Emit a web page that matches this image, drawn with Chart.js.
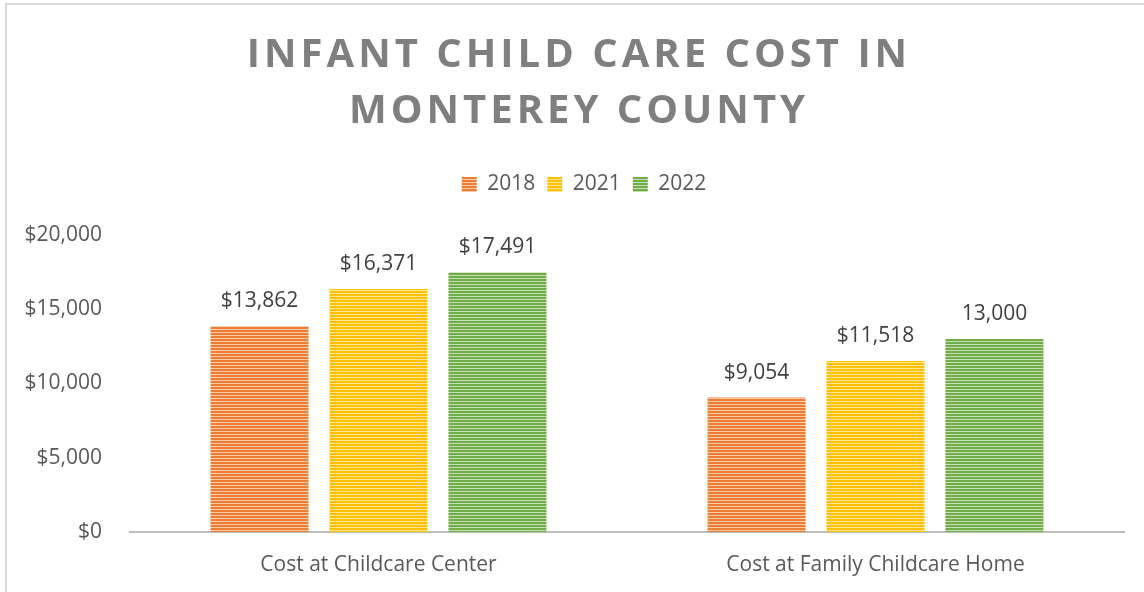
<!DOCTYPE html>
<html>
<head>
<meta charset="utf-8">
<script src="https://cdn.jsdelivr.net/npm/chart.js@4.4.1/dist/chart.umd.min.js"></script>
<style>
    body { margin: 0; background: #fff; }
    .frame {
        position: absolute; left: 5px; top: 3px; right: 0; bottom: 0;
        border-left: 2px solid #D9D9D9; border-top: 2px solid #D9D9D9;
    }
    .wrap { position: relative; width: 1144px; height: 592px; }
    canvas { position: absolute; left: 0; top: 0; }
</style>
</head>
<body>
<div class="wrap">
    <div class="frame"></div>
    <canvas id="costChart" width="1144" height="592"></canvas>
</div>
<script>
// ----------- Data ----------------- //
const categories = ["Cost at Childcare Center", "Cost at Family Childcare Home"];
const years = ["2018", "2021", "2022"];
const cost2018 = [13862, 9054];
const cost2021 = [16371, 11518];
const cost2022 = [17491, 13000];
const dollarSign2022 = [true, false]; // the 13,000 label has no $ in the source
const yTicks = [0, 5000, 10000, 15000, 20000];
const titleLines = ["INFANT CHILD CARE COST IN", "MONTEREY COUNTY"];

const colors = ["#ED7D31", "#FFC000", "#70AD47"];
const FONT = "'Open Sans', sans-serif";
const TEXT = "#595959";

// horizontal stripe fill like Excel's pattern fill
const stripes = (color) => {
    const c = document.createElement("canvas");
    c.width = 4; c.height = 3;
    const x = c.getContext("2d");
    x.fillStyle = color;
    x.fillRect(0, 0, 4, 3);
    x.fillStyle = "rgba(255,255,255,0.6)";
    x.fillRect(0, 2, 4, 1);
    return x.createPattern(c, "repeat");
};

const money = (v) => "$" + v.toLocaleString("en-US");

// ----------- Title plugin (letter spaced) ----------------- //
const spacedTitle = {
    id: "spacedTitle",
    afterDraw(chart) {
        const ctx = chart.ctx;
        ctx.save();
        ctx.font = "bold 40px " + FONT;
        ctx.fillStyle = "#7F7F7F";
        ctx.textAlign = "center";
        ctx.textBaseline = "middle";
        ctx.letterSpacing = "4px";
        titleLines.forEach((t, i) => {
            ctx.fillText(t, 579, 56 + i * 56);
        });
        ctx.restore();
    }
};

// legend sits a little right of the canvas centre in the source
const legendShift = {
    id: "legendShift",
    afterLayout(chart) {
        chart.legend.left += 22;
        chart.legend.right += 22;
    }
};

// ----------- Value labels ----------------- //
const valueLabels = {
    id: "valueLabels",
    afterDatasetsDraw(chart) {
        const ctx = chart.ctx;
        ctx.save();
        ctx.font = "21px " + FONT;
        ctx.fillStyle = "#404040";
        ctx.textAlign = "center";
        ctx.textBaseline = "middle";
        chart.data.datasets.forEach((ds, di) => {
            chart.getDatasetMeta(di).data.forEach((bar, i) => {
                let txt = money(ds.data[i]);
                if (di === 2 && !dollarSign2022[i]) txt = ds.data[i].toLocaleString("en-US");
                ctx.fillText(txt, bar.x, bar.y - 25);
            });
        });
        ctx.restore();
    }
};

const series = [cost2018, cost2021, cost2022];

new Chart(document.getElementById("costChart"), {
    type: "bar",
    data: {
        labels: categories,
        datasets: years.map((y, i) => ({
            label: y,
            data: series[i],
            backgroundColor: stripes(colors[i]),
            borderWidth: 0,
            categoryPercentage: 0.718,
            barPercentage: 0.824
        }))
    },
    options: {
        responsive: false,
        animation: false,
        layout: { padding: { top: 162, left: 0, right: 20, bottom: 0 } },
        plugins: {
            legend: {
                position: "top",
                labels: {
                    boxWidth: 15,
                    boxHeight: 15,
                    padding: 12,
                    color: TEXT,
                    font: { family: FONT, size: 21 }
                }
            },
            // empty spacer between legend and plot
            subtitle: {
                display: true,
                text: "",
                position: "top",
                weight: 500,
                font: { size: 10 },
                padding: { top: 0, bottom: 18 }
            },
            tooltip: { enabled: false }
        },
        scales: {
            x: {
                grid: { display: false, drawTicks: false },
                border: { color: "#BFBFBF", width: 2 },
                ticks: { color: TEXT, padding: 20, font: { family: FONT, size: 21 } },
                afterFit: (s) => { s.height = 60; }
            },
            y: {
                min: 0,
                max: 20000,
                grid: { display: false, drawTicks: false },
                border: { display: false },
                afterBuildTicks: (s) => { s.ticks = yTicks.map(v => ({ value: v })); },
                ticks: {
                    color: TEXT,
                    padding: 28,
                    font: { family: FONT, size: 21 },
                    callback: (v) => money(v)
                },
                afterFit: (s) => { s.width = 130; }
            }
        }
    },
    plugins: [spacedTitle, legendShift, valueLabels]
});
</script>
</body>
</html>
